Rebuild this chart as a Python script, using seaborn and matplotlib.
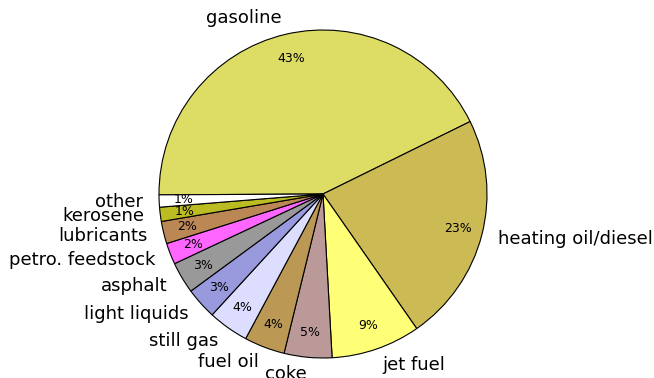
"""
Pie chart of products made from a barrel of crude oil.
"""
import matplotlib
matplotlib.use("Agg")
import matplotlib.pyplot as plt
import seaborn as sns

products = ["gasoline", "heating oil/diesel", "jet fuel", "coke", "fuel oil",
            "still gas", "light liquids", "asphalt", "petro. feedstock",
            "lubricants", "kerosene", "other"]
shares = [42.8, 22.6, 8.8, 4.7, 4.0, 4.0, 3.1, 3.1, 2.1, 2.2, 1.4, 1.2]
colors = ["#dddd66", "#ccbb55", "#ffff77", "#bb9999", "#bb9955", "#ddddff",
          "#9999dd", "#999999", "#ff66ff", "#bb8855", "#bbbb22", "#ffffff"]

sns.set_style("white")
plt.rcParams['font.family'] = ['DejaVu Sans']
plt.rcParams['text.color'] = 'black'

fig = plt.figure(figsize=(6.54, 3.78), dpi=100)
ax = fig.add_axes([0, 0, 1, 1])

wedges, texts, autotexts = ax.pie(
    shares, labels=products, colors=colors, autopct="%1.0f%%",
    startangle=180.3, counterclock=False, pctdistance=0.85, labeldistance=1.1,
    wedgeprops=dict(edgecolor="black", linewidth=0.8),
    textprops=dict(fontsize=13, color="black"),
)
for t in autotexts:
    t.set_fontsize(9)

# place the pie like the reference
ax.set_xlim(-323 / 164, 331 / 164)
ax.set_ylim(-184 / 164, 194 / 164)
ax.set_aspect("equal", adjustable="box")
ax.axis("off")

fig.savefig("out.png", dpi=100)
